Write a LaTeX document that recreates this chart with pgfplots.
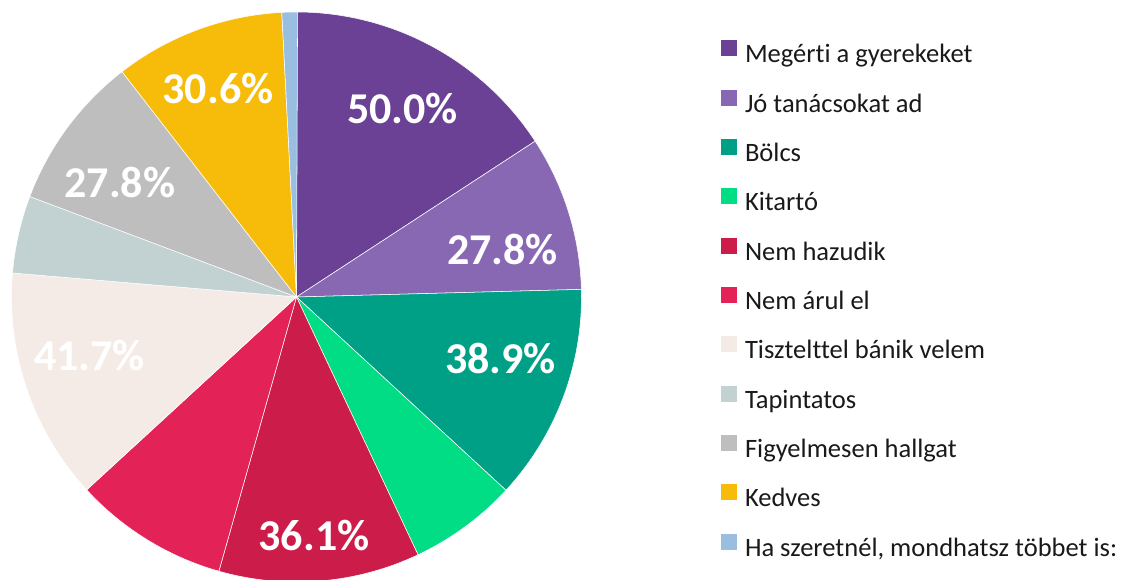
\documentclass[border=0pt]{standalone}
\usepackage{pgfplots}
\usepackage{pgfplotstable}
\pgfplotsset{compat=1.18}
\usepackage{fontspec}
\setmainfont{Carlito}[Ligatures=NoCommon]

\definecolor{cMeg}{HTML}{6A4195}
\definecolor{cJo}{HTML}{8868B3}
\definecolor{cBol}{HTML}{00A086}
\definecolor{cKit}{HTML}{00DD84}
\definecolor{cHaz}{HTML}{CC1C4A}
\definecolor{cAru}{HTML}{E32358}
\definecolor{cTis}{HTML}{F5EBE6}
\definecolor{cTap}{HTML}{C2D1D1}
\definecolor{cFig}{HTML}{BEBEBE}
\definecolor{cKed}{HTML}{F7BC09}
\definecolor{cHa}{HTML}{9ABEE0}

% share of respondents (%), slice colour, label shown, label base position (px)
\pgfplotstableread[col sep=semicolon]{
val;col;show;lx;ly
50.0;cMeg;1;402.5;123.5
27.8;cJo;1;502.5;265
38.9;cBol;1;500.5;373.5
19.4;cKit;0;0;0
36.1;cHaz;1;314;551
27.8;cAru;0;0;0
41.7;cTis;1;89.5;370.5
13.9;cTap;0;0;0
27.8;cFig;1;120;198
30.6;cKed;1;218;103.5
2.8;cHa;0;0;0
}\piedata

\newcommand\legfont{\fontsize{19.9}{22}\selectfont}
\newcommand\labfont{\fontsize{33}{36}\selectfont\bfseries}

\begin{document}
\begin{tikzpicture}
\useasboundingbox (0,0) rectangle (852pt,435pt);
\begin{axis}[
    at={(0,0)}, anchor=south west,
    width=852pt, height=435pt, scale only axis,
    xmin=0, xmax=1136, ymin=0, ymax=580,
    y dir=reverse,
    hide axis, clip=true,
    legend image code/.code={\fill[#1,draw=none] (0pt,0pt) rectangle (12pt,12pt);},
    legend cell align=left,
    legend style={
        at={(axis cs:721,40.3)}, anchor=north west,
        draw=none, fill=none, inner sep=0pt, outer sep=0pt,
        row sep=16pt, font=\legfont, text=black!90,
        nodes={inner sep=0pt, text height=14pt, text depth=4pt},
        /tikz/every odd column/.append style={column sep=6pt},
    },
]
\pgfmathsetmacro\total{316.6}
\def\acc{0}
\pgfplotsforeachungrouped \i in {0,...,10}{%
    \pgfplotstablegetelem{\i}{val}\of\piedata\let\v\pgfplotsretval
    \pgfplotstablegetelem{\i}{col}\of\piedata\let\c\pgfplotsretval
    \pgfmathsetmacro\tA{90-\acc/\total*360}
    \pgfmathsetmacro\acc{\acc+\v}
    \pgfmathsetmacro\tB{90-\acc/\total*360}
    \edef\cmd{\noexpand\fill[fill=\c,draw=white,line width=0.4pt]
        (axis cs:296.5,297) -- ++(\tA:213.75pt)
        arc[start angle=\tA,end angle=\tB,radius=213.75pt] -- cycle;}%
    \cmd
}
\pgfplotsforeachungrouped \i in {0,...,10}{%
    \pgfplotstablegetelem{\i}{val}\of\piedata\let\v\pgfplotsretval
    \pgfplotstablegetelem{\i}{show}\of\piedata\let\s\pgfplotsretval
    \pgfplotstablegetelem{\i}{lx}\of\piedata\let\lx\pgfplotsretval
    \pgfplotstablegetelem{\i}{ly}\of\piedata\let\ly\pgfplotsretval
    \ifnum\s=1
        \edef\cmd{\noexpand\node[anchor=base,text=white,inner sep=0pt,
            font=\noexpand\labfont] at (axis cs:\lx,\ly) {\v\noexpand\%};}%
        \cmd
    \fi
}
\addlegendimage{fill=cMeg}
\addlegendimage{fill=cJo}
\addlegendimage{fill=cBol}
\addlegendimage{fill=cKit}
\addlegendimage{fill=cHaz}
\addlegendimage{fill=cAru}
\addlegendimage{fill=cTis}
\addlegendimage{fill=cTap}
\addlegendimage{fill=cFig}
\addlegendimage{fill=cKed}
\addlegendimage{fill=cHa}
\legend{Megérti a gyerekeket, Jó tanácsokat ad, Bölcs, Kitartó, Nem hazudik,
    Nem árul el, Tisztelttel bánik velem, Tapintatos, Figyelmesen hallgat,
    Kedves, {Ha szeretnél, mondhatsz többet is:}}
\end{axis}
\end{tikzpicture}
\end{document}
